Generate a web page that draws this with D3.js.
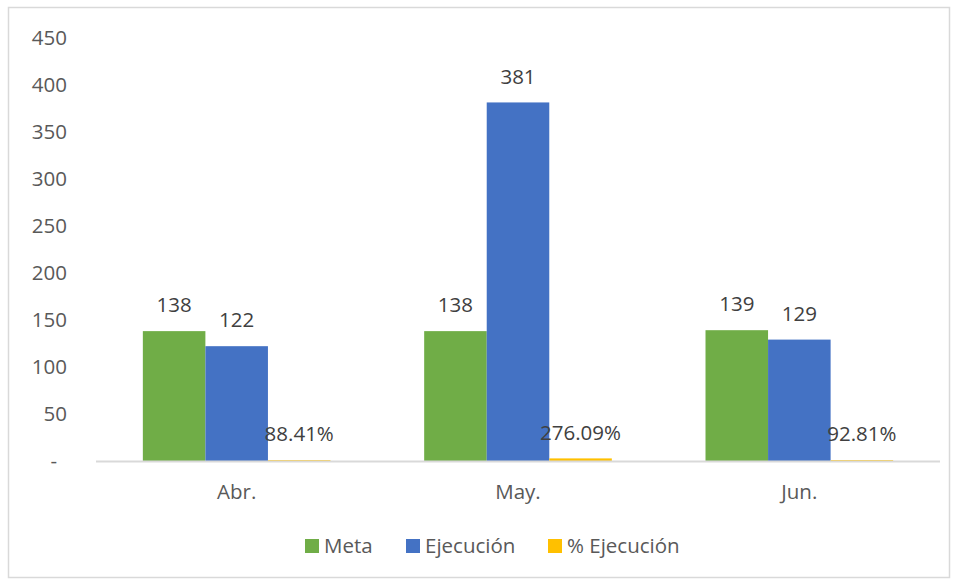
<!DOCTYPE html>
<html><head><meta charset="utf-8">
<script src="https://cdn.jsdelivr.net/npm/d3@7"></script>
<style>body{margin:0;background:#fff}svg{display:block}</style>
</head><body>
<script>
const categories = ["Abr.", "May.", "Jun."];
const seriesNames = ["Meta", "Ejecución", "% Ejecución"];
const meta = [138, 138, 139];
const ejecucion = [122, 381, 129];
const pctEjecucion = [0.8841, 2.7609, 0.9281];
const pctLabels = ["88.41%", "276.09%", "92.81%"];
const tickValues = [0, 50, 100, 150, 200, 250, 300, 350, 400, 450];
const tickLabels = ["-", "50", "100", "150", "200", "250", "300", "350", "400", "450"];
const colors = ["#70AD47", "#4472C4", "#FFC000"];

const W = 959, H = 581;
const font = "'Open Sans', sans-serif";
const fs = 20.5;
const svg = d3.select("body").append("svg").attr("width", W).attr("height", H);
svg.append("rect").attr("x", 8.5).attr("y", 7.5).attr("width", 941).attr("height", 570)
  .attr("fill", "#fff").attr("stroke", "#d9d9d9").attr("stroke-width", 1.5);

const x = d3.scaleBand().domain(categories).range([96, 940]).paddingInner(0.333).paddingOuter(0.1665);
const xs = d3.scaleBand().domain(seriesNames).range([0, x.bandwidth()]);
const y = d3.scaleLinear().domain([0, 450]).range([461, 37.5]);

// y tick labels
svg.append("g").selectAll("text").data(tickValues).join("text")
  .attr("x", (d, i) => tickLabels[i] === "-" ? 57 : 67)
  .attr("y", d => y(d)).attr("dy", "0.35em")
  .attr("text-anchor", "end").attr("font-family", font).attr("font-size", fs)
  .attr("fill", "#595959").text((d, i) => tickLabels[i]);

const data = categories.map((c, i) => ({cat: c, vals: [meta[i], ejecucion[i], pctEjecucion[i]], i}));

const groups = svg.append("g").selectAll("g").data(data).join("g")
  .attr("transform", d => `translate(${x(d.cat)},0)`);
groups.selectAll("rect").data(d => d.vals.map((v, k) => ({v, k}))).join("rect")
  .attr("x", d => xs(seriesNames[d.k]))
  .attr("width", xs.bandwidth())
  .attr("y", d => y(d.v))
  .attr("height", d => y(0) - y(d.v))
  .attr("fill", d => colors[d.k]);

// axis line
svg.append("line").attr("x1", 96).attr("x2", 940).attr("y1", 461.5).attr("y2", 461.5)
  .attr("stroke", "#d9d9d9").attr("stroke-width", 2);

// data labels
groups.selectAll("text.lbl").data(d => d.vals.map((v, k) => ({v, k, i: d.i}))).join("text")
  .attr("class", "lbl")
  .attr("x", d => xs(seriesNames[d.k]) + xs.bandwidth() / 2)
  .attr("y", d => y(d.v) - 26).attr("dy", "0.35em")
  .attr("text-anchor", "middle").attr("font-family", font).attr("font-size", fs)
  .attr("fill", "#404040")
  .text(d => d.k === 2 ? pctLabels[d.i] : d.v);

// x labels
svg.append("g").selectAll("text").data(categories).join("text")
  .attr("x", d => x(d) + x.bandwidth() / 2).attr("y", 492).attr("dy", "0.35em")
  .attr("text-anchor", "middle").attr("font-family", font).attr("font-size", fs)
  .attr("fill", "#595959").text(d => d);

// legend
const legX = [305, 406, 548];
const leg = svg.append("g").selectAll("g").data(seriesNames).join("g")
  .attr("transform", (d, i) => `translate(${legX[i]},539)`);
leg.append("rect").attr("width", 14).attr("height", 14).attr("fill", (d, i) => colors[i]);
leg.append("text").attr("x", 19).attr("y", 7).attr("dy", "0.35em")
  .attr("font-family", font).attr("font-size", fs).attr("fill", "#595959").text(d => d);
</script>
</body></html>
